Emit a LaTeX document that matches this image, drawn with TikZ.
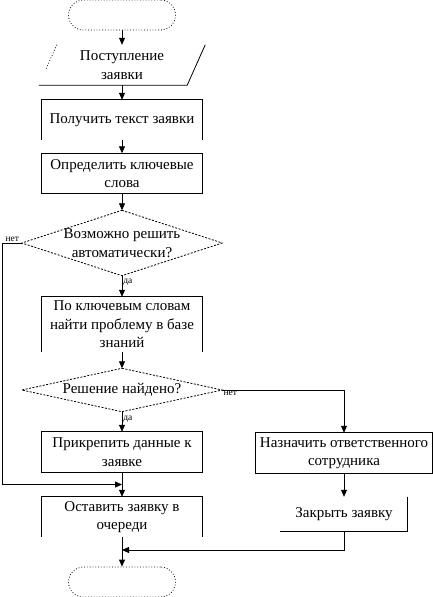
\documentclass[tikz,border=0pt]{standalone}
\usepackage{fontspec}
\setmainfont{Liberation Serif}
\usetikzlibrary{arrows.meta,calc}

\begin{document}
\begin{tikzpicture}[x=1pt,y=1pt,
  t/.style={font=\fontsize{15}{18.5}\selectfont,align=center,inner sep=0pt},
  b/.style={t,minimum width=160pt,minimum height=40pt},
  term/.style={draw,dotted,line width=0.8pt,rounded corners=15pt,minimum width=107pt,minimum height=30pt},
  e/.style={line width=0.8pt},
  a/.style={e,-{Triangle[length=7pt,width=6pt]}},
  lab/.style={font=\fontsize{9.5}{10}\selectfont,inner sep=1pt}]
  \useasboundingbox (0,0) rectangle (433,-597);
  % main column
  \node[term] (start) at (122,-15) {};
  \node[t,minimum width=148pt,minimum height=40pt] (inp) at (122,-65) {Поступление\\заявки};
  \node[b] (get) at (122,-120) {Получить текст заявки};
  \node[b] (kw) at (122,-173.5) {Определить ключевые\\слова};
  \node[t,minimum width=200pt,minimum height=65pt] (q1) at (122,-243) {Возможно решить\\автоматически?};
  \node[b,minimum height=55pt] (find) at (122,-324.5) {По ключевым словам\\найти проблему в базе\\знаний};
  \node[t,minimum width=200pt,minimum height=43pt] (q2) at (122,-390) {Решение найдено?};
  \node[b] (att) at (122,-452) {Прикрепить данные к\\заявке};
  \node[b] (queue) at (122,-517) {Оставить заявку в\\очереди};
  \node[term] (end) at (122,-582) {};
  % right column
  \node[b,minimum width=176pt] (assign) at (344,-453) {Назначить ответственного\\сотрудника};
  \node[b,minimum width=127pt,minimum height=34pt] (close) at (344,-514) {Закрыть заявку};
  % outlines
  \draw[e] ($(inp.south west)+(-9,0)$) -- ($(inp.south east)+(-9,0)$) -- ($(inp.north east)+(9,0)$);
  \draw[e,dotted] ($(inp.north west)+(9,0)$) -- ($(inp.north west)!0.6!(inp.south west)+(-1.8,0)$);
  \foreach \n in {get,find,queue} \draw[e] (\n.south west) |- (\n.north east) -- (\n.south east);
  \foreach \n in {kw,att,assign} \draw[e] (\n.south west) rectangle (\n.north east);
  \draw[e] (close.north east) -- (close.south east) -- (close.south west);
  \foreach \n in {q1,q2} \draw[e,dash pattern=on 2pt off 1.5pt] (\n.north) -- (\n.east) -- (\n.south) -- (\n.west) -- cycle;
  % connectors
  \coordinate (j1) at ($(att.south)!0.5!(queue.north)$);
  \coordinate (j2) at (122,-550);
  \draw[a] (start) -- (inp);
  \draw[a] (inp) -- (get);
  \draw[a] (get) -- (kw);
  \draw[a] (kw) -- (q1.north);
  \draw[a] (q1.south) -- (find) node[lab,pos=0.3,right] {да};
  \draw[a] (find) -- (q2.north);
  \draw[a] (q2.south) -- (att) node[lab,pos=0.35,right] {да};
  \draw[a] (att) -- (queue);
  \draw[a] (queue) -- (end);
  \draw[a] (q1.west) -- ++(-19,0) node[lab,above,pos=0.5] {нет} |- (j1);
  \draw[a] (q2.east) -| (assign.north) node[lab,pos=0,below right] {нет};
  \draw[a] (assign) -- (close);
  \draw[a] (close.south) |- (j2);
\end{tikzpicture}
\end{document}
